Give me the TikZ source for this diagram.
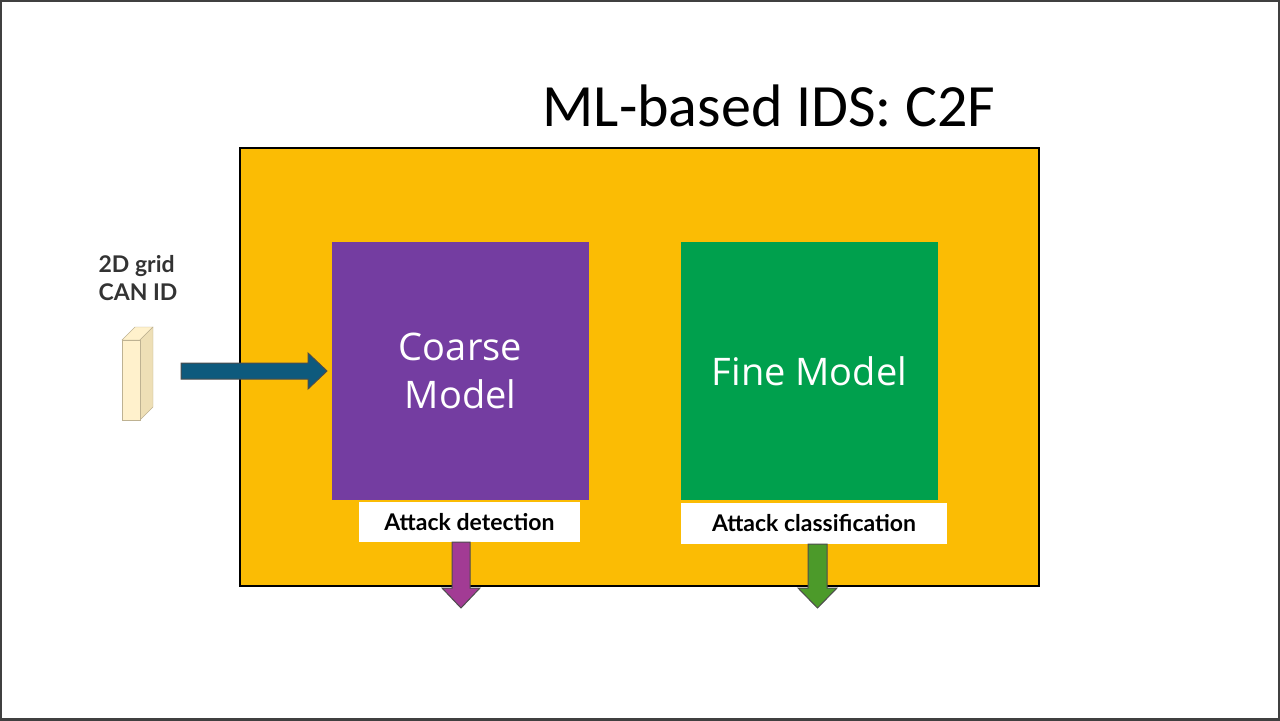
\documentclass[tikz,border=0pt]{standalone}
\usepackage{fontspec}
\setmainfont{Open Sans}
\newfontfamily\titlefont{Carlito}
\newfontfamily\labfont{Lato}
\definecolor{orng}{HTML}{FBBC04}
\definecolor{purp}{HTML}{743DA1}
\definecolor{grn}{HTML}{00A04D}
\definecolor{parr}{HTML}{A23B94}
\definecolor{garr}{HTML}{4C9A2A}
\definecolor{barr}{HTML}{0E5A7D}
\definecolor{slab}{HTML}{FFF1CC}
\definecolor{slabside}{HTML}{EEDFB6}
\begin{document}
\begin{tikzpicture}[x=0.5pt,y=-0.5pt,
  model/.style={draw=none,minimum width=128.5pt,minimum height=129pt,inner sep=0pt,text=white,font=\fontsize{19}{24}\selectfont,align=center},
  lab/.style={fill=white,inner sep=0pt,font=\labfont\bfseries\fontsize{11.5}{14}\selectfont},
  arr/.style={draw=black!70,line width=0.5pt,line join=miter}]
\useasboundingbox (0,0) rectangle (1280,720);
\draw[black!75,line width=2pt] (0,0) rectangle (1280,720);
\node[font=\titlefont\fontsize{30}{36}\selectfont,anchor=center] (title) at (769,106) {ML-based IDS: C2F};
\draw[fill=orng,draw=black,line width=0.6pt] (240,148) rectangle (1039,586);
\node[model,fill=purp] (coarse) at (460.5,371) {Coarse\\Model};
\node[model,fill=grn] (fine) at (809.5,371) {Fine Model};
\node[lab,minimum width=110.5pt,minimum height=20pt] (det) at (469.5,522) {Attack detection};
\node[lab,minimum width=133pt,minimum height=20.5pt] (cls) at (814,523.5) {Attack classification};
\node[font=\labfont\bfseries\fontsize{11.5}{14}\selectfont,text=black!80,align=left] (inp) at (138,278) {2D grid\\CAN ID};
% slab
\fill[slab,draw=slabside!80!black,line width=0.2pt] (122,340) -- (135,327) -- (153,327) -- (140,340) -- cycle;
\fill[slabside,draw=slabside!80!black,line width=0.2pt] (140,340) -- (153,327) -- (153,407) -- (140,420) -- cycle;
\fill[slab,draw=slabside!80!black,line width=0.2pt] (122,340) rectangle (140,420);
% arrows
\draw[arr,fill=barr] (181,363) -- (308,363) -- (308,353) -- (327,371) -- (308,389) -- (308,379) -- (181,379) -- cycle;
\draw[arr,fill=parr] (452,542) -- (470,542) -- (470,588) -- (480,588) -- (461,608) -- (442,588) -- (452,588) -- cycle;
\draw[arr,fill=garr] (808,544) -- (827,544) -- (827,588) -- (837,588) -- (817.5,608) -- (798,588) -- (808,588) -- cycle;
\end{tikzpicture}
\end{document}
